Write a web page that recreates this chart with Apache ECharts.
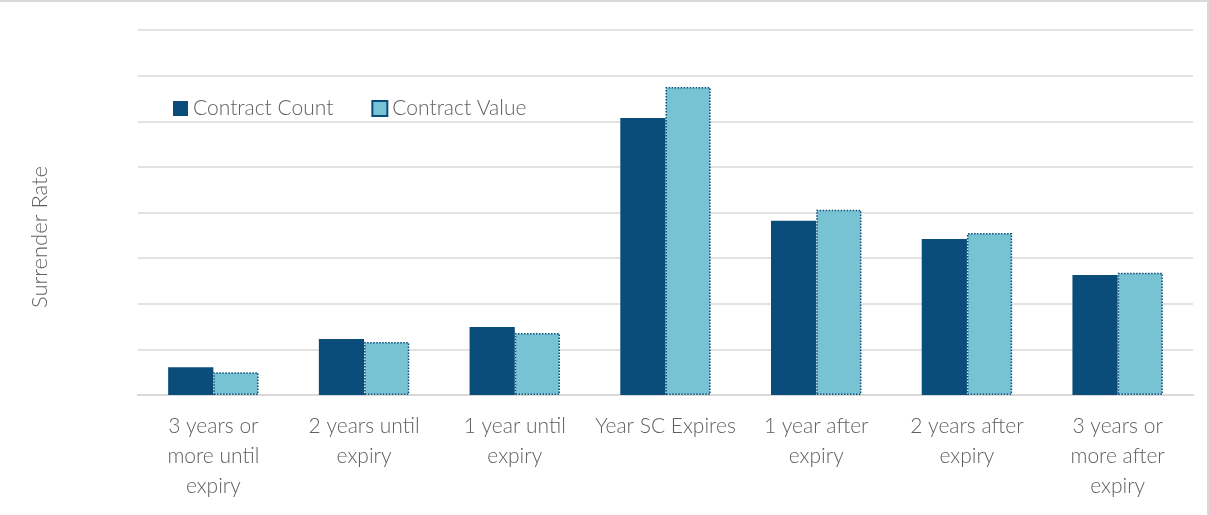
<!DOCTYPE html>
<html>
<head>
<meta charset="utf-8">
<script src="https://cdn.jsdelivr.net/npm/echarts@6/dist/echarts.min.js"></script>
<style>
  html, body { margin: 0; padding: 0; background: #fff; }
  #chart {
    width: 1209px;
    height: 515px;
    box-sizing: border-box;
    border-top: 2px solid #d9d9d9;
    border-right: 2px solid #d9d9d9;
  }
</style>
</head>
<body>
<div id="chart"></div>
<script>
// categories and values (values read off the gridlines, no tick labels shown)
var categories = [
  '3 years or\nmore until\nexpiry',
  '2 years until\nexpiry',
  '1 year until\nexpiry',
  'Year SC Expires',
  '1 year after\nexpiry',
  '2 years after\nexpiry',
  '3 years or\nmore after\nexpiry'
];
var contractCount = [0.61, 1.23, 1.49, 6.07, 3.82, 3.42, 2.63];
var contractValue = [0.50, 1.16, 1.36, 6.75, 4.06, 3.55, 2.68];

var fontName = 'Lato, "Open Sans", sans-serif';
var textGray = '#606060';
var myChart = echarts.init(document.getElementById('chart'));

var option = {
  animation: false,
  grid: {
    left: 138,
    right: 14,
    top: 28,
    bottom: 120
  },
  // y axis title, centred on the whole chart height like the original
  graphic: [
    {
      type: 'text',
      x: 40,
      y: 235,
      rotation: Math.PI / 2,
      style: {
        text: 'Surrender Rate',
        x: 0,
        y: 0,
        align: 'center',
        verticalAlign: 'middle',
        fill: textGray,
        fontSize: 22,
        fontWeight: 300,
        fontFamily: fontName
      }
    }
  ],
  legend: {
    left: 168,
    top: 91,
    itemWidth: 15,
    itemHeight: 15,
    itemGap: 38,
    icon: 'rect',
    textStyle: {
      color: textGray,
      fontSize: 21,
      fontWeight: 300,
      fontFamily: fontName
    },
    data: ['Contract Count', 'Contract Value']
  },
  xAxis: {
    type: 'category',
    data: categories,
    axisLine: { lineStyle: { color: '#d9d9d9', width: 2 } },
    axisTick: { show: false },
    axisLabel: {
      interval: 0,
      margin: 16,
      color: textGray,
      fontSize: 21,
      fontWeight: 300,
      lineHeight: 30,
      fontFamily: fontName
    }
  },
  yAxis: {
    type: 'value',
    min: 0,
    max: 8,
    interval: 1,
    axisLabel: { show: false },
    axisLine: { show: false },
    axisTick: { show: false },
    splitLine: { lineStyle: { color: '#d9d9d9', width: 1.5 } }
  },
  series: [
    {
      name: 'Contract Count',
      type: 'bar',
      barGap: '0%',
      barCategoryGap: '40%',
      itemStyle: { color: '#0b4d7a' },
      data: contractCount
    },
    {
      name: 'Contract Value',
      type: 'bar',
      itemStyle: {
        color: '#78c3d3',
        borderColor: '#0b4d7a',
        borderWidth: 1.5,
        borderType: 'dotted'
      },
      data: contractValue
    }
  ]
};

myChart.setOption(option);
</script>
</body>
</html>
